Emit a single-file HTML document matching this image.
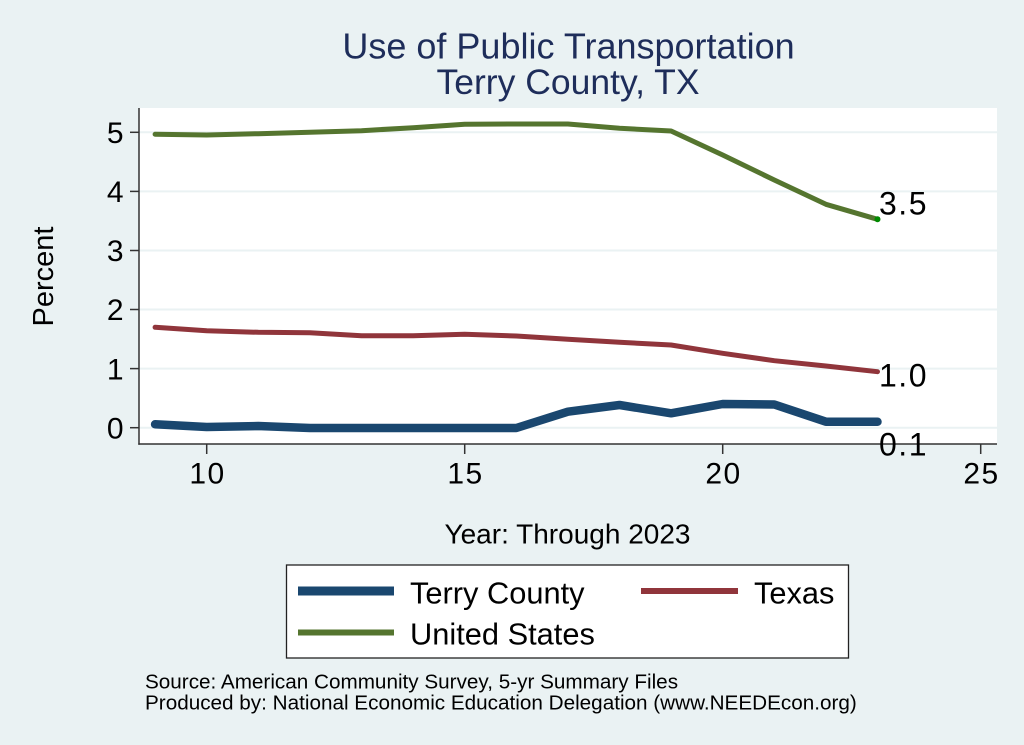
<!DOCTYPE html>
<html><head><meta charset="utf-8"><style>
html,body{margin:0;padding:0;background:#eaf2f3;}
svg{display:block;}
text{font-family:"Liberation Sans",Arial,sans-serif;}
</style></head><body>
<svg width="1024" height="745" viewBox="0 0 1024 745" xmlns="http://www.w3.org/2000/svg">
<rect x="0" y="0" width="1024" height="745" fill="#eaf2f3"/>
<!-- title -->
<text x="568.5" y="58.3" font-size="36" fill="#1e2d5a" text-anchor="middle">Use of Public Transportation</text>
<text x="568" y="94" font-size="35.5" fill="#1e2d5a" text-anchor="middle">Terry County, TX</text>
<!-- plot area -->
<rect x="139" y="108" width="858" height="336" fill="#ffffff"/>
<g stroke="#eaf2f3" stroke-width="2">
<line x1="139" y1="132.3" x2="997" y2="132.3"/>
<line x1="139" y1="191.4" x2="997" y2="191.4"/>
<line x1="139" y1="250.5" x2="997" y2="250.5"/>
<line x1="139" y1="309.5" x2="997" y2="309.5"/>
<line x1="139" y1="368.6" x2="997" y2="368.6"/>
<line x1="139" y1="427.7" x2="997" y2="427.7"/>
</g>
<!-- axes -->
<g stroke="#333" stroke-width="1.5" fill="none">
<line x1="139" y1="108" x2="139" y2="444.7"/>
<line x1="138.3" y1="444" x2="997" y2="444"/>
<line x1="130" y1="132.3" x2="139" y2="132.3"/>
<line x1="130" y1="191.4" x2="139" y2="191.4"/>
<line x1="130" y1="250.5" x2="139" y2="250.5"/>
<line x1="130" y1="309.5" x2="139" y2="309.5"/>
<line x1="130" y1="368.6" x2="139" y2="368.6"/>
<line x1="130" y1="427.7" x2="139" y2="427.7"/>
<line x1="206.7" y1="444" x2="206.7" y2="454"/>
<line x1="464.7" y1="444" x2="464.7" y2="454"/>
<line x1="722.7" y1="444" x2="722.7" y2="454"/>
<line x1="980.7" y1="444" x2="980.7" y2="454"/>
</g>
<!-- y tick labels -->
<g font-size="30" fill="#000" text-anchor="end">
<text x="123.5" y="143">5</text>
<text x="123.5" y="202.1">4</text>
<text x="123.5" y="261.2">3</text>
<text x="123.5" y="320.2">2</text>
<text x="123.5" y="379.3">1</text>
<text x="123.5" y="438.4">0</text>
</g>
<!-- x tick labels -->
<g font-size="30" fill="#000" text-anchor="middle" letter-spacing="1.5">
<text x="207.5" y="483.5">10</text>
<text x="465.5" y="483.5">15</text>
<text x="723.5" y="483.5">20</text>
<text x="981.5" y="483.5">25</text>
</g>
<!-- axis titles -->
<text x="567.5" y="543.3" font-size="28" fill="#000" text-anchor="middle">Year: Through 2023</text>
<text transform="translate(53,276.5) rotate(-90)" x="0" y="0" font-size="29" fill="#000" text-anchor="middle">Percent</text>
<!-- series -->
<g fill="none" stroke-linecap="round" stroke-linejoin="round">
<polyline stroke="#55752f" stroke-width="5" points="155.1,134.3 206.7,135 258.3,133.7 309.9,132.3 361.5,130.7 413.1,127.7 464.7,124.3 516.3,124 567.9,124 619.5,128.3 671.1,131 722.7,155 774.3,180 825.9,204.3 877.5,219.3"/>
<polyline stroke="#90353b" stroke-width="5" points="155.1,327.3 206.7,330.7 258.3,332.3 309.9,332.7 361.5,335.7 413.1,335.7 464.7,334.3 516.3,336 567.9,339.3 619.5,342.3 671.1,345 722.7,353.3 774.3,360.7 825.9,366 877.5,371.7"/>
<polyline stroke="#1a476f" stroke-width="8.5" points="155.1,424.3 206.7,427 258.3,426 309.9,428 361.5,428 413.1,428 464.7,428 516.3,428 567.9,411.7 619.5,405 671.1,413.3 722.7,404 774.3,404.5 825.9,421.7 877.5,421.7"/>
</g>
<circle cx="877.5" cy="219.3" r="3" fill="#008a00"/>
<!-- end labels -->
<g font-size="32" fill="#000" letter-spacing="1.5">
<text x="879" y="214.5">3.5</text>
<text x="879" y="386.3">1.0</text>
<text x="879" y="455.3">0.1</text>
</g>
<!-- legend -->
<rect x="286.5" y="565" width="562" height="93" fill="#ffffff" stroke="#222" stroke-width="1.3"/>
<line x1="298" y1="591" x2="394" y2="591" stroke="#1a476f" stroke-width="9"/>
<line x1="641" y1="591" x2="738" y2="591" stroke="#90353b" stroke-width="6"/>
<line x1="298" y1="632.5" x2="394" y2="632.5" stroke="#55752f" stroke-width="6"/>
<g font-size="30.8" fill="#000">
<text x="410" y="603.3">Terry County</text>
<text x="754" y="603.3">Texas</text>
<text x="410" y="644.3">United States</text>
</g>
<!-- notes -->
<g font-size="20.7" fill="#000">
<text x="145" y="688.3">Source: American Community Survey, 5-yr Summary Files</text>
<text x="145" y="709.5">Produced by: National Economic Education Delegation (www.NEEDEcon.org)</text>
</g>
</svg>
</body></html>
